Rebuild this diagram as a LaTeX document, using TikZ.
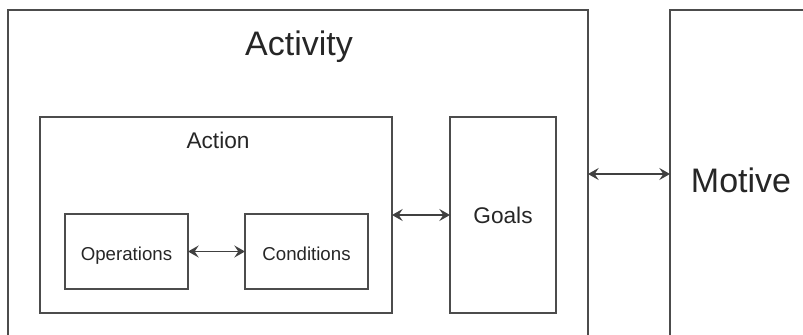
\documentclass[tikz,border=0pt]{standalone}
\usepackage{fontspec}
\setmainfont{Liberation Sans}
\usepackage{tikz}
\usetikzlibrary{arrows.meta}
\tikzset{
	box/.style={draw=black!70, line width=1.1pt, inner sep=0pt, outer sep=0pt, rectangle, text=black!85},
	link/.style={draw=black!75, line width=1.4pt, {Stealth[length=8pt,width=9pt,inset=3pt]}-{Stealth[length=8pt,width=9pt,inset=3pt]}}
}

\begin{document}
\begin{tikzpicture}[x=0.75pt, y=-0.75pt]
			%%%%% START %%%%%
			
			\useasboundingbox (0, 0) rectangle (803, 335);
			\clip (0, 0) rectangle (803, 335);
			
			\node[box, minimum width=435pt, minimum height=262.5pt] (activity) at (298, 185) {};
			\node[font=\fontsize{25.5}{28}\selectfont, text=black!85] (activitytext) at (299, 47) {Activity};
			
			\node[box, minimum width=264pt, minimum height=147pt] (action) at (216, 215) {};
			\node[font=\fontsize{17}{20}\selectfont, text=black!85] (actiontext) at (218, 140) {Action};
			
			\node[box, minimum width=92.25pt, minimum height=56.25pt, font=\fontsize{14}{16}\selectfont, text height=14pt, text depth=0pt] (operations) at (126.5, 251.5) {Operations};
			\node[box, minimum width=92.25pt, minimum height=56.25pt, font=\fontsize{14}{16}\selectfont, text height=14pt, text depth=0pt] (conditions) at (306.5, 251.5) {Conditions};
			
			\node[box, minimum width=79.5pt, minimum height=147pt, font=\fontsize{17}{20}\selectfont] (goals) at (503, 215) {Goals};
			
			\node[box, minimum width=120pt, minimum height=262.5pt] (motive) at (750, 185) {};
			\node[font=\fontsize{25.5}{28}\selectfont, text=black!85] (motivetext) at (741, 180) {Motive};
			
			\draw[link] (operations.east) -- (conditions.west);
			\draw[link] (action.east) -- (goals.west);
			\draw[link] (activity.east |- 0, 174) -- (motive.west |- 0, 174);
			
			%%%%% END %%%%%
\end{tikzpicture}
\end{document}
